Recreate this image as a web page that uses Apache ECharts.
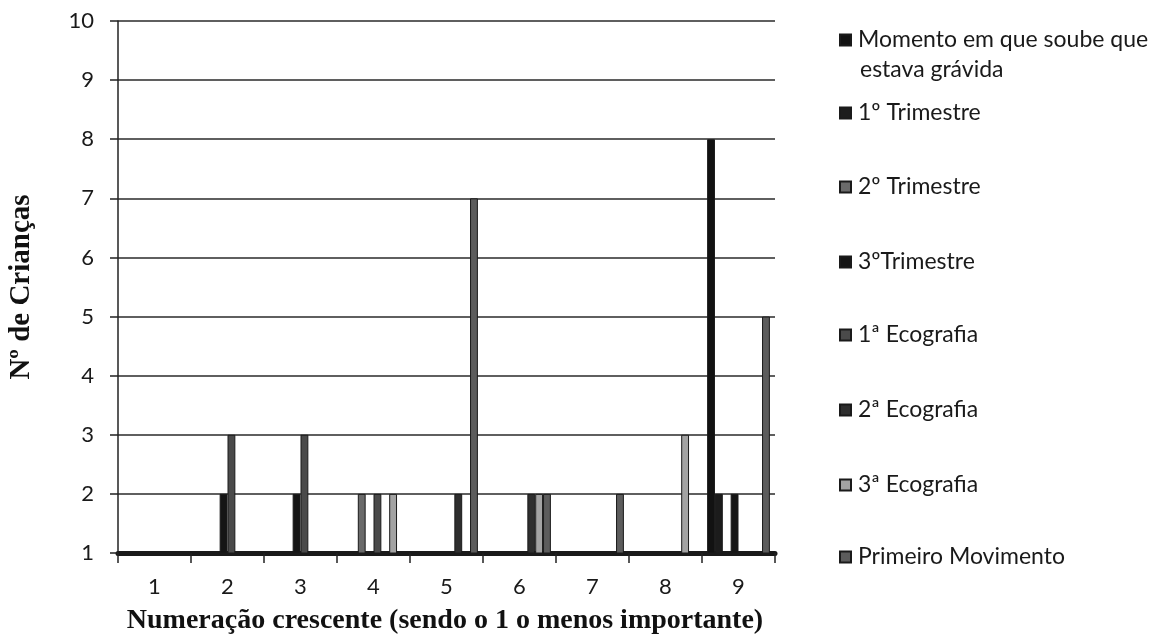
<!DOCTYPE html>
<html>
<head>
<meta charset="utf-8">
<script src="https://cdn.jsdelivr.net/npm/echarts@6/dist/echarts.min.js"></script>
<style>
html,body{margin:0;padding:0;background:#fff;}
#chart{width:1162px;height:640px;}
</style>
</head>
<body>
<div id="chart"></div>
<script>
const categories = ['1','2','3','4','5','6','7','8','9'];
const seriesNames = ['Momento em que soube que estava grávida','1º Trimestre','2º Trimestre','3ºTrimestre','1ª Ecografia','2ª Ecografia','3ª Ecografia','Primeiro Movimento'];
const momento      = [1,1,1,1,1,1,1,1,8];
const trimestre1   = [1,1,1,1,1,1,1,1,2];
const trimestre2   = [1,1,1,2,1,1,1,1,1];
const trimestre3   = [1,2,2,1,1,1,1,1,2];
const ecografia1   = [1,3,3,2,1,1,1,1,1];
const ecografia2   = [1,1,1,1,2,2,1,1,1];
const ecografia3   = [1,1,1,2,1,2,1,3,1];
const movimento    = [1,1,1,1,7,2,2,1,5];
const yTicks = [1,2,3,4,5,6,7,8,9,10];

const allData = [momento,trimestre1,trimestre2,trimestre3,ecografia1,ecografia2,ecografia3,movimento];
const colors = ['#121212','#1c1c1c','#6a6a6a','#151515','#4a4a4a','#2e2e2e','#a3a3a3','#5c5c5c'];
const legendCenters = [40,113,187,262,335,410,485,557];
const legendLabels = ['Momento em que soube que','1º Trimestre','2º Trimestre','3ºTrimestre','1ª Ecografia','2ª Ecografia','3ª Ecografia','Primeiro Movimento'];

const chart = echarts.init(document.getElementById('chart'));
const fontSans = 'Lato, "Open Sans", sans-serif';
const fontSerif = '"Liberation Serif", "DejaVu Serif", serif';
const legendFont = 23;

const option = {
  backgroundColor: '#fff',
  animation: false,
  color: colors,
  grid: {left: 118, right: 387, top: 21, bottom: 87, containLabel: false, outerBoundsMode: 'none'},
  legend: seriesNames.map((n, i) => ({
    data: [n],
    left: 839,
    top: legendCenters[i] - legendFont / 2,
    padding: 0,
    orient: 'vertical',
    icon: 'rect',
    itemWidth: 11,
    itemHeight: 11,
    itemGap: 6,
    selectedMode: false,
    formatter: () => legendLabels[i],
    textStyle: {fontFamily: fontSans, fontSize: legendFont, color: '#1a1a1a', padding: [0,0,0,2]}
  })),
  graphic: [{
    type: 'text', left: 860, top: 70 - legendFont / 2,
    style: {text: 'estava grávida', font: legendFont + 'px ' + fontSans, fill: '#1a1a1a'}
  }, {
    type: 'text', x: 445, y: 621,
    style: {text: 'Numeração crescente (sendo o 1 o menos importante)', font: 'bold 28px ' + fontSerif, fill: '#111', textAlign: 'center', textVerticalAlign: 'middle'}
  }],
  xAxis: {
    type: 'category',
    data: categories,
    axisLine: {lineStyle: {color: '#1a1a1a', width: 5}},
    axisTick: {show: true, length: 10, lineStyle: {color: '#222', width: 1.5}},
    axisLabel: {fontFamily: fontSans, fontSize: 22, color: '#1a1a1a', margin: 23}
  },
  yAxis: {
    type: 'value',
    min: 1, max: 10, interval: 1,
    name: 'Nº de Crianças',
    nameLocation: 'middle',
    nameGap: 82,
    nameRotate: 90,
    nameTextStyle: {fontFamily: fontSerif, fontWeight: 'bold', fontSize: 29, color: '#111'},
    axisLine: {show: true, lineStyle: {color: '#222', width: 1.5}},
    axisTick: {show: true, length: 8, lineStyle: {color: '#222', width: 1.5}},
    axisLabel: {fontFamily: fontSans, fontSize: 22, color: '#1a1a1a', margin: 24, formatter: v => yTicks.includes(v) ? String(v) : ''},
    splitLine: {lineStyle: {color: '#2a2a2a', width: 1.5}}
  },
  series: seriesNames.map((n, i) => ({
    name: n,
    type: 'bar',
    data: allData[i],
    barGap: '0%',
    barCategoryGap: '14%',
    itemStyle: {color: colors[i], borderColor: '#1a1a1a', borderWidth: 1}
  }))
};
chart.setOption(option);
</script>
</body>
</html>
